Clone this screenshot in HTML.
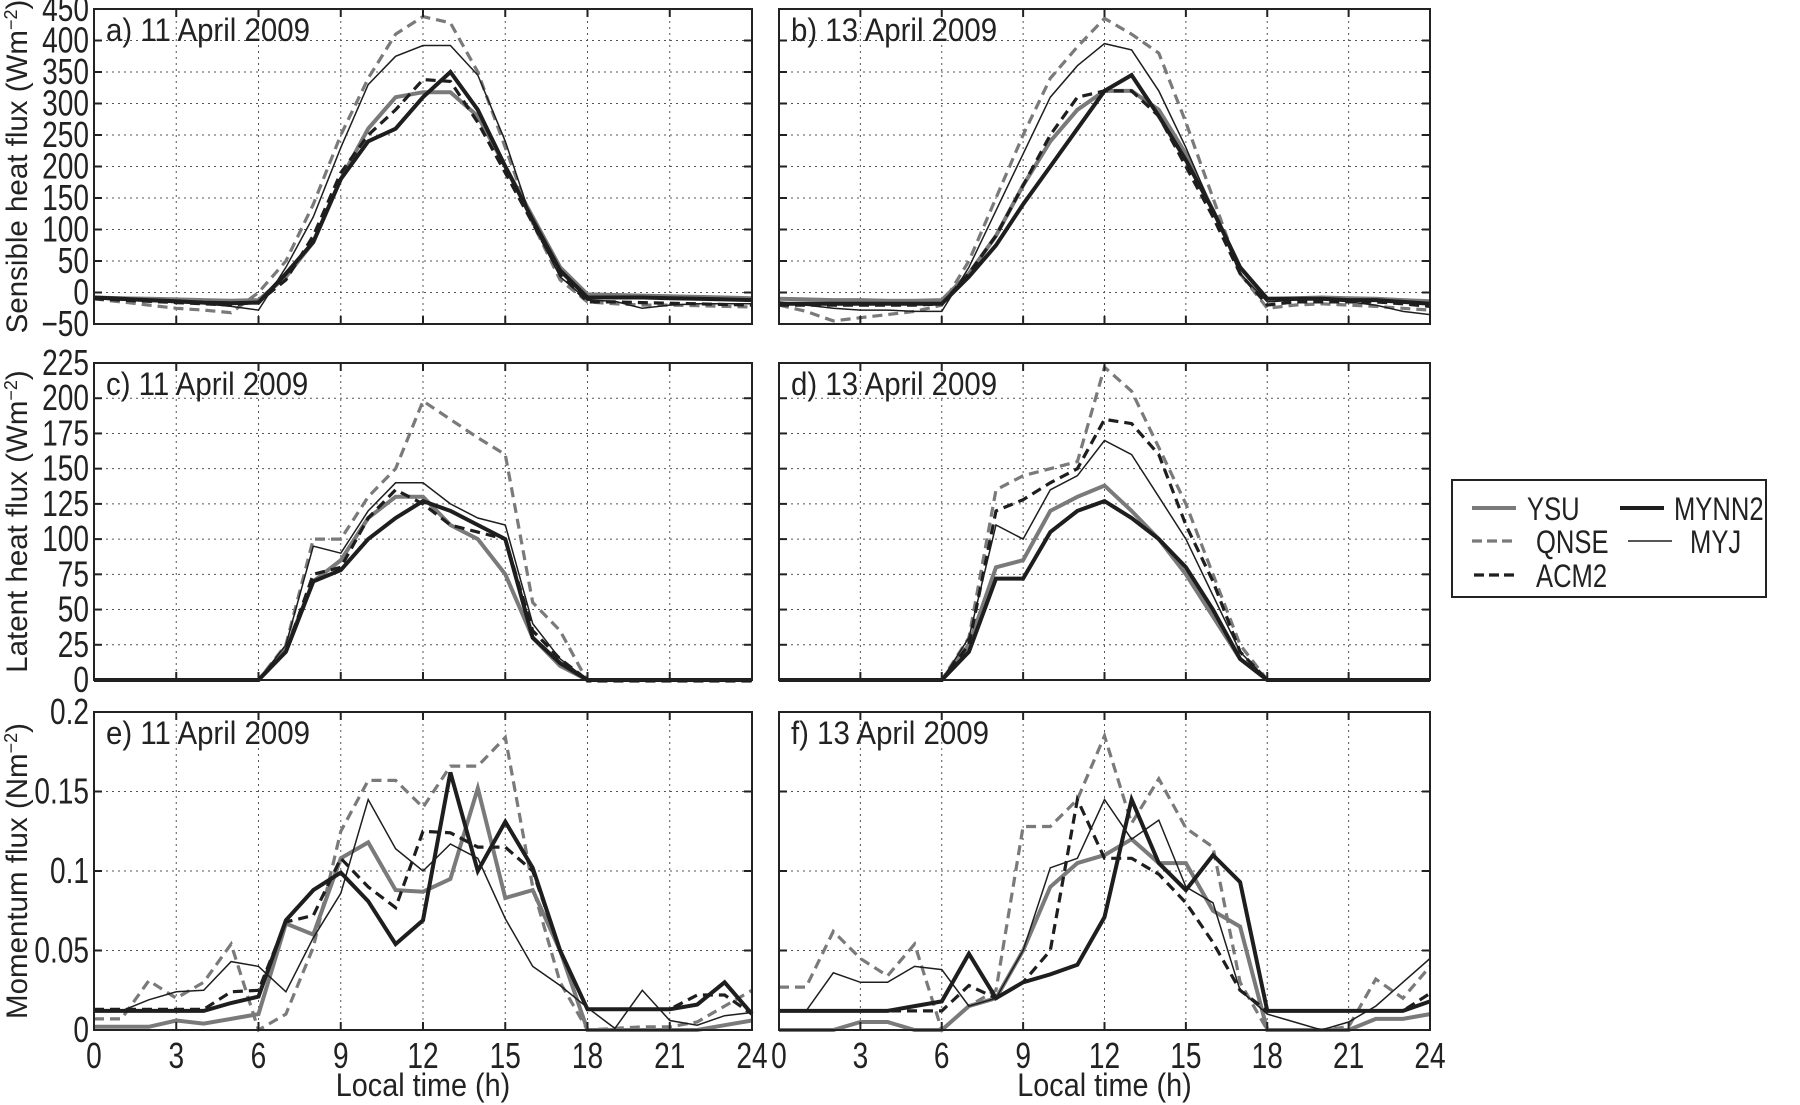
<!DOCTYPE html>
<html><head><meta charset="utf-8">
<style>
html,body{margin:0;padding:0;background:#fff;}
svg{display:block;font-family:"Liberation Sans",Arial,sans-serif;}
</style></head>
<body>
<svg id="fig" width="1800" height="1105" viewBox="0 0 1800 1105" xmlns="http://www.w3.org/2000/svg"></svg>
<script>
const hours = [0,1,2,3,4,5,6,7,8,9,10,11,12,13,14,15,16,17,18,19,20,21,22,23,24];
const xTicks = [0,3,6,9,12,15,18,21,24];
const shTicks = [-50,0,50,100,150,200,250,300,350,400,450];
const lhTicks = [0,25,50,75,100,125,150,175,200,225];
const mfTicks = [0,0.05,0.1,0.15,0.2];
const mfTickLabels = ["0","0.05","0.1","0.15","0.2"];
const seriesNames = ["YSU","QNSE","ACM2","MYNN2","MYJ"];

// a) sensible heat, 11 April
const shA_YSU  = [-8,-9,-10,-11,-12,-13,-12,25,80,180,260,310,318,318,280,200,120,40,-3,-4,-5,-6,-7,-8,-9];
const shA_QNSE = [-10,-15,-20,-25,-28,-32,0,50,140,250,340,410,438,428,350,230,110,20,-15,-18,-20,-20,-21,-22,-23];
const shA_ACM2 = [-10,-12,-14,-16,-18,-20,-15,20,90,190,250,290,338,335,270,190,110,30,-15,-15,-16,-17,-18,-19,-20];
const shA_MYNN2= [-8,-10,-12,-14,-16,-17,-16,30,80,180,240,260,310,350,290,200,115,35,-8,-8,-8,-9,-10,-11,-12];
const shA_MYJ  = [-10,-12,-14,-16,-18,-22,-28,40,120,230,330,375,392,392,345,240,110,25,-12,-14,-25,-20,-18,-18,-18];
// b) sensible heat, 13 April
const shB_YSU  = [-10,-11,-12,-12,-13,-13,-12,30,90,170,240,290,320,320,290,220,130,40,-10,-9,-8,-9,-10,-12,-14];
const shB_QNSE = [-20,-30,-45,-40,-35,-30,-20,50,150,250,340,390,435,410,380,270,150,30,-25,-20,-18,-20,-22,-25,-28];
const shB_ACM2 = [-20,-20,-20,-20,-20,-20,-18,30,90,170,250,310,320,320,280,200,120,30,-20,-15,-15,-15,-15,-18,-22];
const shB_MYNN2= [-18,-18,-18,-18,-18,-18,-18,25,75,140,200,260,320,345,280,210,130,40,-10,-10,-10,-12,-12,-15,-18];
const shB_MYJ  = [-15,-20,-25,-28,-28,-30,-30,40,130,220,310,360,395,385,320,230,130,30,-15,-12,-10,-15,-20,-30,-35];
// c) latent heat, 11 April
const lhC_YSU  = [0,0,0,0,0,0,0,22,70,85,115,130,130,110,100,75,30,10,0,0,0,0,0,0,0];
const lhC_QNSE = [0,0,0,0,0,0,0,25,100,100,130,150,198,185,172,160,55,35,-1,-1,-1,-1,-1,-1,-1];
const lhC_ACM2 = [0,0,0,0,0,0,0,20,75,80,115,135,125,110,105,100,35,15,0,0,0,0,0,0,0];
const lhC_MYNN2= [0,0,0,0,0,0,0,20,70,78,100,115,127,120,110,100,30,12,0,0,0,0,0,0,0];
const lhC_MYJ  = [0,0,0,0,0,0,0,25,95,90,120,140,140,125,115,110,40,15,0,0,0,0,0,0,0];
// d) latent heat, 13 April
const lhD_YSU  = [0,0,0,0,0,0,0,25,80,85,120,130,138,120,100,75,45,15,0,0,0,0,0,0,0];
const lhD_QNSE = [0,0,0,0,0,0,0,30,135,145,150,155,222,205,165,125,75,25,0,0,0,0,0,0,0];
const lhD_ACM2 = [0,0,0,0,0,0,0,25,120,128,140,150,185,182,160,110,70,20,0,0,0,0,0,0,0];
const lhD_MYNN2= [0,0,0,0,0,0,0,20,72,72,105,120,127,115,100,80,50,15,0,0,0,0,0,0,0];
const lhD_MYJ  = [0,0,0,0,0,0,0,30,110,100,135,145,170,160,130,100,60,20,0,0,0,0,0,0,0];
// e) momentum, 11 April
const mfE_YSU  = [.002,.002,.002,.006,.004,.007,.01,.067,.06,.108,.118,.088,.087,.095,.152,.083,.088,.05,0,0,0,0,0,.003,.006];
const mfE_QNSE = [.007,.007,.031,.02,.03,.054,0,.01,.052,.125,.157,.157,.14,.166,.166,.184,.09,.03,0,.001,.002,.002,.005,.015,.025];
const mfE_ACM2 = [.013,.013,.013,.013,.013,.024,.025,.068,.072,.108,.09,.077,.125,.124,.115,.115,.1,.05,.013,.013,.013,.013,.022,.022,.01];
const mfE_MYNN2= [.012,.012,.012,.012,.012,.017,.021,.069,.088,.099,.081,.054,.069,.162,.1,.131,.102,.05,.013,.013,.013,.013,.016,.03,.01];
const mfE_MYJ  = [.012,.012,.019,.024,.025,.043,.04,.024,.058,.086,.145,.114,.1,.117,.108,.07,.04,.028,.014,.001,.025,.006,.003,.009,.011];
// f) momentum, 13 April
const mfF_YSU  = [0,0,0,.005,.005,0,0,.015,.02,.05,.09,.105,.11,.12,.105,.105,.075,.065,0,0,0,0,.007,.007,.01];
const mfF_QNSE = [.027,.027,.062,.045,.034,.054,0,.015,.025,.128,.128,.145,.185,.13,.158,.127,.115,.03,0,0,0,.002,.032,.02,.04];
const mfF_ACM2 = [.012,.012,.012,.012,.012,.012,.012,.028,.02,.03,.05,.145,.108,.108,.098,.08,.055,.025,.012,.012,.012,.012,.012,.012,.023];
const mfF_MYNN2= [.012,.012,.012,.012,.012,.015,.018,.048,.02,.03,.035,.041,.071,.145,.105,.088,.11,.093,.012,.012,.012,.012,.012,.012,.018];
const mfF_MYJ  = [.012,.012,.036,.03,.03,.04,.038,.015,.02,.05,.102,.108,.145,.12,.132,.09,.08,.025,.01,.005,0,.005,.015,.03,.045];

const NS="http://www.w3.org/2000/svg";
const svg=document.getElementById('fig');
function mk(tag,attrs,parent){const e=document.createElementNS(NS,tag);for(const k in attrs)e.setAttribute(k,attrs[k]);(parent||svg).appendChild(e);return e;}
function sx(x,y,s){return `translate(${x},${y}) scale(${s},1) translate(${-x},${-y})`;}

const styles={
 YSU:{stroke:"#7a7a7a",w:4,dash:null},
 QNSE:{stroke:"#7a7a7a",w:3.2,dash:"10,6"},
 ACM2:{stroke:"#1e1e1e",w:3.2,dash:"10,6"},
 MYNN2:{stroke:"#1e1e1e",w:4,dash:null},
 MYJ:{stroke:"#1e1e1e",w:1.5,dash:null}
};

function panel(cfg){
 const g=mk('g',{});
 
 
 const L=cfg.x0,R=cfg.x1,T=cfg.y0,B=cfg.y1;
 const xs=h=>L+(h-0)/24*(R-L);
 const ys=v=>B-(v-cfg.ymin)/(cfg.ymax-cfg.ymin)*(B-T);
 cfg.yticks.forEach(v=>{if(v>cfg.ymin&&v<cfg.ymax){const l=mk('line',{x1:L,x2:R,y1:ys(v),y2:ys(v),stroke:"#555","stroke-width":1,"stroke-dasharray":"2,4"},g);}});
 xTicks.forEach(h=>{if(h>0&&h<24){const l=mk('line',{x1:xs(h),x2:xs(h),y1:T,y2:B,stroke:"#555","stroke-width":1,"stroke-dasharray":"2,4"},g);}});
 cfg.series.forEach((arr,i)=>{
  const nm=seriesNames[i];const st=styles[nm];
  const pts=hours.map((h,j)=>xs(h).toFixed(1)+","+ys(arr[j]).toFixed(1)).join(" ");
  const a={points:pts,fill:"none",stroke:st.stroke,"stroke-width":st.w,"stroke-linejoin":"miter"};
  if(st.dash)a["stroke-dasharray"]=st.dash;
  const p=mk('polyline',a,g);
  
  
 });
 const f=mk('rect',{x:L,y:T,width:R-L,height:B-T,fill:"none",stroke:"#222","stroke-width":2},g);
 
 
 cfg.yticks.forEach((v,k)=>{
  const y=ys(v);
  mk('line',{x1:L,x2:L+8,y1:y,y2:y,stroke:"#222","stroke-width":2},g);
  mk('line',{x1:R,x2:R-8,y1:y,y2:y,stroke:"#222","stroke-width":2},g);
  if(cfg.showY){
   const t=mk('text',{x:L-5,y:y+12,"text-anchor":"end","font-size":36,fill:"#222",transform:sx(L-5,y+12,0.78)},g);
   t.textContent=cfg.ylabels?cfg.ylabels[k]:String(v).replace('-','\u2212');
   
   
  }
 });
 xTicks.forEach(h=>{
  const x=xs(h);
  mk('line',{x1:x,x2:x,y1:B,y2:B-8,stroke:"#222","stroke-width":2},g);
  mk('line',{x1:x,x2:x,y1:T,y2:T+8,stroke:"#222","stroke-width":2},g);
  if(cfg.showX){
   const t=mk('text',{x:x,y:B+38,"text-anchor":"middle","font-size":36,fill:"#222",transform:sx(x,B+38,0.78)},g);
   t.textContent=h;
   
   
  }
 });
 const tl=mk('text',{x:L+12,y:T+32,"font-size":32,fill:"#222",transform:sx(L+12,T+32,0.92)},g);
 tl.textContent=cfg.title;
 
 
 if(cfg.showX){
  const cx=(L+R)/2;
  const xl=mk('text',{x:cx,y:B+66,"text-anchor":"middle","font-size":32,fill:"#222",transform:sx(cx,B+66,0.9)},g);
  xl.textContent="Local time (h)";
  
  
 }
 if(cfg.ytitle){
  const cy=(T+B)/2;
  const yt=mk('text',{x:0,y:0,"text-anchor":"middle","font-size":29.5,fill:"#222",transform:`translate(27,${cy}) rotate(-90)`},g);
  const unit=cfg.ytitleUnit?'Nm':'Wm';
  yt.innerHTML=cfg.ytitle+' ('+unit+'<tspan dy="-10" font-size="18">\u22122</tspan><tspan dy="10">)</tspan>';
  
  
 }
}

const LX0=94,LX1=752,RX0=779,RX1=1430;
panel({name:'panel-a',x0:LX0,x1:LX1,y0:9,y1:324,ymin:-50,ymax:450,yticks:shTicks,showY:true,showX:false,title:'a) 11 April 2009',ytitle:'Sensible heat flux',series:[shA_YSU,shA_QNSE,shA_ACM2,shA_MYNN2,shA_MYJ]});
panel({name:'panel-b',x0:RX0,x1:RX1,y0:9,y1:324,ymin:-50,ymax:450,yticks:shTicks,showY:false,showX:false,title:'b) 13 April 2009',series:[shB_YSU,shB_QNSE,shB_ACM2,shB_MYNN2,shB_MYJ]});
panel({name:'panel-c',x0:LX0,x1:LX1,y0:363,y1:680,ymin:0,ymax:225,yticks:lhTicks,showY:true,showX:false,title:'c) 11 April 2009',ytitle:'Latent heat flux',series:[lhC_YSU,lhC_QNSE,lhC_ACM2,lhC_MYNN2,lhC_MYJ]});
panel({name:'panel-d',x0:RX0,x1:RX1,y0:363,y1:680,ymin:0,ymax:225,yticks:lhTicks,showY:false,showX:false,title:'d) 13 April 2009',series:[lhD_YSU,lhD_QNSE,lhD_ACM2,lhD_MYNN2,lhD_MYJ]});
panel({name:'panel-e',x0:LX0,x1:LX1,y0:712,y1:1030,ymin:0,ymax:0.2,yticks:mfTicks,ylabels:mfTickLabels,showY:true,showX:true,title:'e) 11 April 2009',ytitle:'Momentum flux',ytitleUnit:true,series:[mfE_YSU,mfE_QNSE,mfE_ACM2,mfE_MYNN2,mfE_MYJ]});
panel({name:'panel-f',x0:RX0,x1:RX1,y0:712,y1:1030,ymin:0,ymax:0.2,yticks:mfTicks,showY:false,showX:true,title:'f) 13 April 2009',series:[mfF_YSU,mfF_QNSE,mfF_ACM2,mfF_MYNN2,mfF_MYJ]});

const lg=mk('g',{});


mk('rect',{x:1452,y:480,width:314,height:117,fill:"#fff",stroke:"#222","stroke-width":2},lg);
const legItems=[["YSU",1472,508,1527],["MYNN2",1620,508,1674],["QNSE",1472,541,1536],["MYJ",1628,541,1690],["ACM2",1474,575,1536]];
legItems.forEach(([nm,x,y,tx])=>{
 const st=styles[nm];
 const a={x1:x,x2:x+44,y1:y,y2:y,stroke:st.stroke,"stroke-width":st.w};
 if(st.dash)a["stroke-dasharray"]="10,5";
 const l=mk('line',a,lg);
 
 
 const ty=y+12;
 const t=mk('text',{x:tx,y:ty,"font-size":32,fill:"#222",transform:sx(tx,ty,0.8)},lg);
 t.textContent=nm;
 
 
});
</script>
</body></html>
